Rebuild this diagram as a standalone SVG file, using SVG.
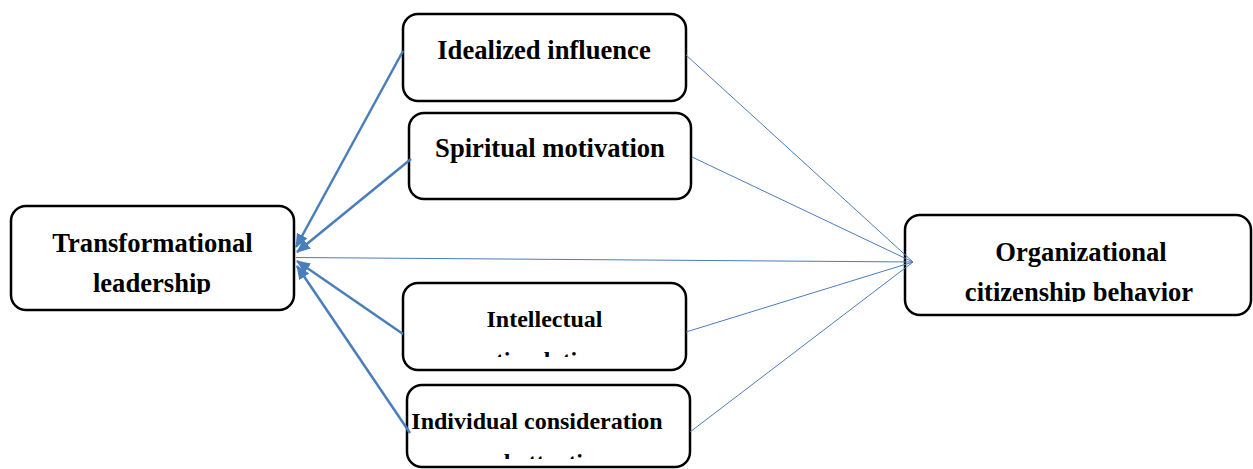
<svg xmlns="http://www.w3.org/2000/svg" width="1253" height="469" viewBox="0 0 1253 469">
<style>
.box{fill:#fff;stroke:#000;stroke-width:2.5}
.t{font-family:"Liberation Serif","Times New Roman",serif;font-weight:bold;fill:#000;text-anchor:middle}
.big{font-size:26.6px}
.sm{font-size:24px}
.thick{stroke:#4A7EBB;stroke-width:2.5;fill:none}
.thin{stroke:#4A7EBB;stroke-width:1;fill:none}
</style>
<defs>
<marker id="ah" markerUnits="userSpaceOnUse" markerWidth="14" markerHeight="12" refX="13" refY="6" orient="auto">
<path d="M0,0 L14,6 L0,12 Z" fill="#4A7EBB"/>
</marker>
<clipPath id="c1"><rect x="0" y="200" width="300" height="94"/></clipPath>
<clipPath id="c2"><rect x="400" y="280" width="300" height="77"/></clipPath>
<clipPath id="c3"><rect x="400" y="380" width="300" height="79"/></clipPath>
<clipPath id="c4"><rect x="900" y="210" width="353" height="92"/></clipPath>
</defs>
<rect width="1253" height="469" fill="#fff"/>
<g id="transformational">
<rect class="box" x="11" y="206" width="283" height="104" rx="15"/>
<g clip-path="url(#c1)">
<text class="t big" x="152.5" y="252">Transformational</text>
<text class="t big" x="152" y="292">leadership</text>
</g>
</g>
<g id="idealized">
<rect class="box" x="403" y="14" width="283" height="87" rx="15"/>
<text class="t big" x="544" y="59">Idealized influence</text>
</g>
<g id="spiritual">
<rect class="box" x="409" y="113" width="282" height="86" rx="15"/>
<text class="t big" x="550" y="157">Spiritual motivation</text>
</g>
<g id="intellectual">
<rect class="box" x="403" y="283" width="283" height="87" rx="15"/>
<g clip-path="url(#c2)">
<text class="t sm" x="544.5" y="327">Intellectual</text>
<text class="t sm" x="544.5" y="368">stimulation</text>
</g>
</g>
<g id="individual">
<rect class="box" x="407" y="385" width="283" height="82" rx="15"/>
<g clip-path="url(#c3)">
<text class="t sm" x="537" y="429">Individual consideration</text>
<text class="t sm" x="540" y="470">and attention</text>
</g>
</g>
<g id="organizational">
<rect class="box" x="905" y="215" width="346" height="100" rx="15"/>
<g clip-path="url(#c4)">
<text class="t big" x="1081" y="261">Organizational</text>
<text class="t big" x="1079" y="301">citizenship behavior</text>
</g>
</g>
<g id="connectors">
<line class="thick" x1="403" y1="51" x2="296" y2="247" marker-end="url(#ah)"/>
<line class="thick" x1="411" y1="159" x2="297" y2="252" marker-end="url(#ah)"/>
<line class="thick" x1="403" y1="334" x2="297" y2="261" marker-end="url(#ah)"/>
<line class="thick" x1="410" y1="433" x2="297" y2="266" marker-end="url(#ah)"/>
<line class="thin" x1="913" y1="262" x2="296" y2="257.5"/>
<line class="thin" x1="686" y1="55" x2="913" y2="262"/>
<line class="thin" x1="692" y1="157" x2="913" y2="262"/>
<line class="thin" x1="686" y1="332" x2="913" y2="262"/>
<line class="thin" x1="690" y1="432" x2="913" y2="262"/>
</g>
</svg>
